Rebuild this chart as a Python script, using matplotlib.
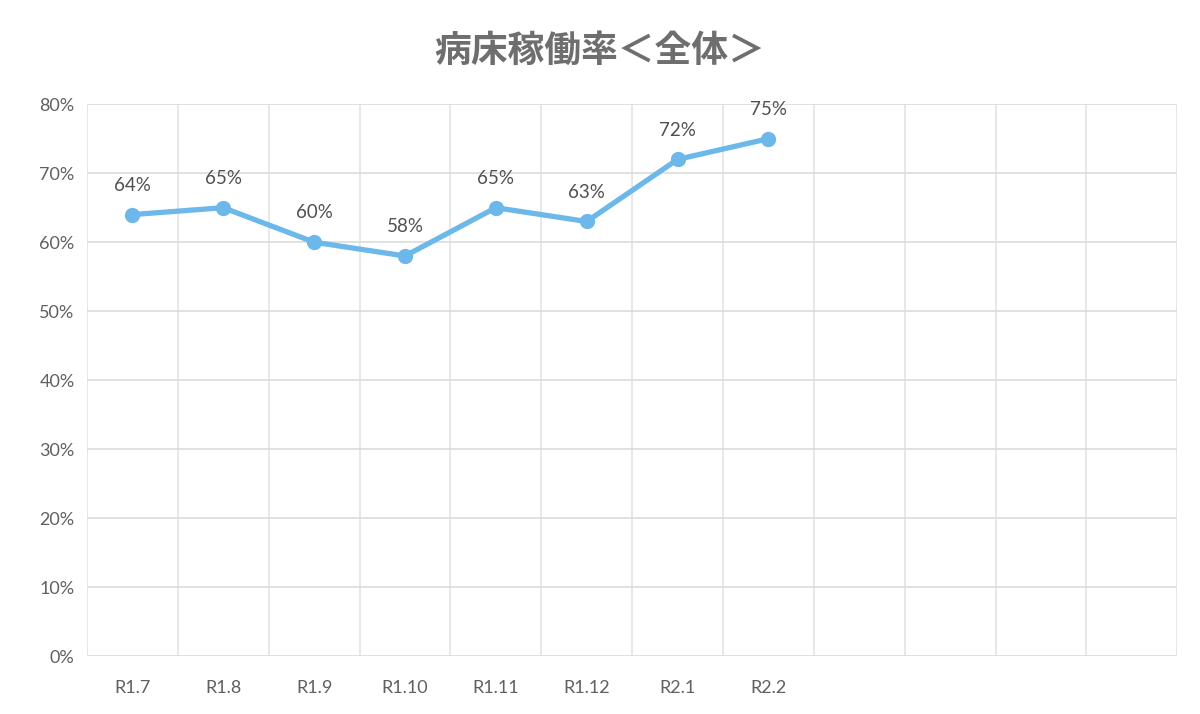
import matplotlib.pyplot as plt
import numpy as np

# data
months = ['R1.7', 'R1.8', 'R1.9', 'R1.10', 'R1.11', 'R1.12', 'R2.1', 'R2.2',
          '', '', '', '']
rate = [64, 65, 60, 58, 65, 63, 72, 75]
yticks = [0, 10, 20, 30, 40, 50, 60, 70, 80]

plt.rcParams['font.family'] = ['Lato', 'Noto Sans CJK JP', 'DejaVu Sans']

fig = plt.figure(figsize=(12, 7.14), dpi=100)
ax = fig.add_axes([0.0725, 0.0812, 0.9085, 0.7728])

x = np.arange(len(rate))
ax.plot(x, rate, color='#6db8ea', linewidth=3.8, marker='o', markersize=10,
        solid_capstyle='round', zorder=3)

for xi, v in zip(x, rate):
    ax.annotate('%d%%' % v, (xi, v), xytext=(0, 15), textcoords='offset points',
                ha='center', va='bottom', fontsize=13.5, color='#505050')

ax.set_xlim(-0.5, len(months) - 0.5)
ax.set_ylim(0, 80)
ax.set_xticks(np.arange(len(months)))
ax.set_xticklabels(months, fontsize=13, color='#606060')
ax.set_xticks(np.arange(-0.5, len(months), 1), minor=True)
ax.set_yticks(yticks)
ax.set_yticklabels(['%d%%' % t for t in yticks], fontsize=13, color='#606060')

ax.grid(axis='y', color='#dcdcdc', linewidth=1.2)
ax.grid(axis='x', which='minor', color='#e4e4e4', linewidth=1.2)
ax.tick_params(axis='both', which='both', length=0)
ax.tick_params(axis='x', pad=17)
ax.tick_params(axis='y', pad=9)
for s in ax.spines.values():
    s.set_visible(False)

fig.text(0.5, 0.928, '病床稼働率＜全体＞', ha='center', va='center',
         fontsize=26.5, color='#6e6e6e', fontweight='bold',
         family=['Noto Sans CJK JP', 'DejaVu Sans'])

fig.savefig('out.png', dpi=100, facecolor='white')
